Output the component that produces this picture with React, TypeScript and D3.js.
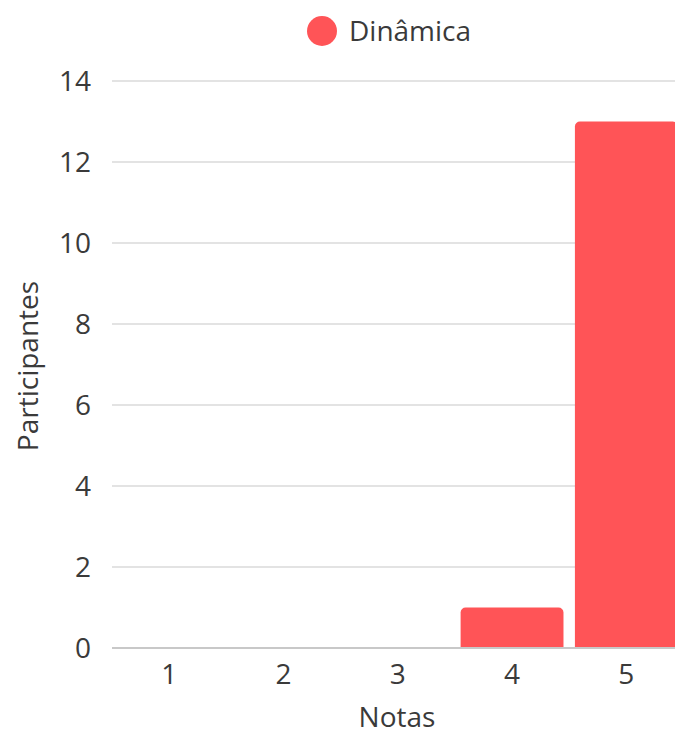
import React from "react";
import * as d3 from "d3";

const categories = ["1", "2", "3", "4", "5"];
const values = [0, 0, 0, 1, 13];
const yTicks = [0, 2, 4, 6, 8, 10, 12, 14];
const seriesName = "Dinâmica";

const W = 675;
const H = 735;
const FONT = "'Open Sans', sans-serif";
const FS = 28;
const RED = "#ff5457";
const TEXT = "#3a3a3a";

function topRoundedBar(x: number, y: number, w: number, h: number, r: number) {
  if (h <= 0) return "";
  const rr = Math.min(r, h, w / 2);
  const p = d3.path();
  p.moveTo(x, y + h);
  p.lineTo(x, y + rr);
  p.arcTo(x, y, x + rr, y, rr);
  p.lineTo(x + w - rr, y);
  p.arcTo(x + w, y, x + w, y + rr, rr);
  p.lineTo(x + w, y + h);
  p.closePath();
  return p.toString();
}

export default function App() {
  const left = 112;
  const step = 114.3;
  const x = d3
    .scaleBand<string>()
    .domain(categories)
    .range([left, left + step * categories.length])
    .paddingInner(0.1)
    .paddingOuter(0.05);
  const y = d3.scaleLinear().domain([0, 14]).range([648, 81]);

  return (
    <svg
      width={W}
      height={H}
      style={{ position: "absolute", left: 0, top: 0, background: "#fff" }}
      fontFamily={FONT}
    >
      {/* legend */}
      <circle cx={322} cy={31} r={15} fill={RED} />
      <text x={349} y={31} dy="0.35em" fontSize={FS} fill={TEXT}>
        {seriesName}
      </text>

      {/* grid and y ticks */}
      {yTicks.map((t) => (
        <g key={t}>
          <line
            x1={left}
            x2={W}
            y1={y(t)}
            y2={y(t)}
            stroke={t === 0 ? "#c8c8c8" : "#e3e3e3"}
            strokeWidth={2}
          />
          <text
            x={91}
            y={y(t)}
            dy="0.35em"
            textAnchor="end"
            fontSize={FS}
            fill={TEXT}
          >
            {t}
          </text>
        </g>
      ))}

      {/* bars */}
      {categories.map((c, i) => (
        <path
          key={c}
          d={topRoundedBar(
            x(c)!,
            y(values[i]),
            x.bandwidth(),
            y(0) - y(values[i]) - 1,
            5
          )}
          fill={RED}
        />
      ))}

      {/* x tick labels */}
      {categories.map((c) => (
        <text
          key={c}
          x={x(c)! + x.bandwidth() / 2}
          y={674}
          dy="0.35em"
          textAnchor="middle"
          fontSize={FS}
          fill={TEXT}
        >
          {c}
        </text>
      ))}

      {/* axis titles */}
      <text x={397} y={717} dy="0.35em" textAnchor="middle" fontSize={FS} fill={TEXT}>
        Notas
      </text>
      <text
        transform={`translate(28, 366) rotate(-90)`}
        dy="0.35em"
        textAnchor="middle"
        fontSize={FS}
        fill={TEXT}
      >
        Participantes
      </text>
    </svg>
  );
}
